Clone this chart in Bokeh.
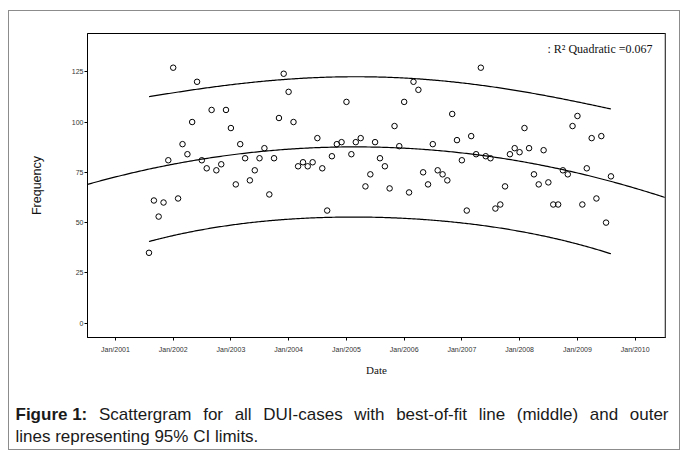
import numpy as np
import pandas as pd
from bokeh.plotting import figure
from bokeh.layouts import column, row
from bokeh.models import (FixedTicker, DatetimeTickFormatter, Label, Range1d,
                          ColumnDataSource, Span, Spacer)
from bokeh.embed import file_html
from bokeh.resources import INLINE

# ---------------- data (monthly DUI case counts) ----------------
first_month = "2001-08-01"
freq_2001 = [35, 61, 53, 60, 81]
freq_2002 = [127, 62, 89, 84, 100, 120, 81, 77, 106, 76, 79, 106]
freq_2003 = [97, 69, 89, 82, 71, 76, 82, 87, 64, 82, 102, 124]
freq_2004 = [115, 100, 78, 80, 78, 80, 92, 77, 56, 83, 89, 90]
freq_2005 = [110, 84, 90, 92, 68, 74, 90, 82, 78, 67, 98, 88]
freq_2006 = [110, 65, 120, 116, 75, 69, 89, 76, 74, 71, 104, 91]
freq_2007 = [81, 56, 93, 84, 127, 83, 82, 57, 59, 68, 84, 87]
freq_2008 = [85, 97, 87, 74, 69, 86, 70, 59, 59, 76, 74, 98]
freq_2009 = [103, 59, 77, 92, 62, 93, 50, 73]

tick_years = [2001, 2002, 2003, 2004, 2005, 2006, 2007, 2008, 2009, 2010]
y_ticks = [0, 25, 50, 75, 100, 125]
x_title = "Date"
y_title = "Frequency"
fit_label = ": R\u00b2 Quadratic =0.067"
caption_bold = "Figure 1:"
caption_line1 = "Scattergram for all DUI-cases with best-of-fit line (middle) and outer"
caption_line2 = "lines representing 95% CI limits."

frequency = (freq_2001 + freq_2002 + freq_2003 + freq_2004 + freq_2005 +
             freq_2006 + freq_2007 + freq_2008 + freq_2009)
dates = pd.date_range(first_month, periods=len(frequency), freq="MS")

def to_ms(ts):
    return pd.Timestamp(ts).value / 1e6

x_ms = np.array([to_ms(d) for d in dates])
x_start = to_ms("2000-07-08")
x_end = to_ms("2010-07-12")

# ---------------- quadratic fit with 95% prediction limits ----------------
YEAR_MS = 365.25 * 86400e3
t = (x_ms - x_ms[0]) / YEAR_MS
y = np.array(frequency, dtype=float)
X = np.column_stack([np.ones_like(t), t, t ** 2])
beta, *_ = np.linalg.lstsq(X, y, rcond=None)
resid = y - X @ beta
dof = len(y) - 3
s2 = resid @ resid / dof
XtX_inv = np.linalg.inv(X.T @ X)
t_crit = 1.9855  # t(0.975, df=94)

grid_full = np.linspace(x_start, x_end, 300)
tf = (grid_full - x_ms[0]) / YEAR_MS
fit_full = beta[0] + beta[1] * tf + beta[2] * tf ** 2

grid_data = np.linspace(x_ms[0], x_ms[-1], 300)
td = (grid_data - x_ms[0]) / YEAR_MS
Xd = np.column_stack([np.ones_like(td), td, td ** 2])
fit_d = Xd @ beta
h = np.einsum("ij,jk,ik->i", Xd, XtX_inv, Xd)
half = t_crit * np.sqrt(s2 * (1 + h))
upper = fit_d + half
lower = fit_d - half

# ---------------- page geometry ----------------
BOX_L, BOX_T = 8, 10          # outer grey panel border (page px)
IN_L, IN_T = BOX_L + 1, BOX_T + 1
INNER_W = 670
MAIN_H = 370
CAP_H = 68
FRAME_L, FRAME_T, FRAME_R, FRAME_B = 87, 33, 665, 337

# ---------------- chart ----------------
p = figure(width=INNER_W, height=MAIN_H, x_axis_type="datetime", output_backend="svg",
           toolbar_location=None, title=None,
           x_range=Range1d(x_start, x_end), y_range=Range1d(-7.1, 144),
           min_border_left=FRAME_L - IN_L, min_border_right=INNER_W - (FRAME_R - IN_L),
           min_border_top=FRAME_T - IN_T, min_border_bottom=MAIN_H - (FRAME_B - IN_T))
p.background_fill_color = "white"
p.border_fill_color = "white"
p.xgrid.visible = False
p.ygrid.visible = False
p.outline_line_color = "black"
p.outline_line_width = 1

FMT = "%b/%Y"
p.xaxis.ticker = FixedTicker(ticks=[to_ms(f"{yr}-01-01") for yr in tick_years])
p.xaxis.formatter = DatetimeTickFormatter(years=FMT, months=FMT, days=FMT, hours=FMT,
                                          hourmin=FMT, minutes=FMT, minsec=FMT, seconds=FMT,
                                          milliseconds=FMT, microseconds=FMT)
p.yaxis.ticker = FixedTicker(ticks=y_ticks)

for ax in (p.xaxis, p.yaxis):
    ax.major_label_text_font = "Liberation Sans"
    ax.major_label_text_font_size = "7px"
    ax.major_label_text_color = "#333333"
    ax.major_tick_in = 0
    ax.major_tick_out = 3
    ax.minor_tick_line_color = None
    ax.axis_line_color = "black"
    ax.major_tick_line_color = "black"
    ax.axis_label_text_font_style = "normal"
    ax.axis_label_text_color = "#111111"

p.xaxis.axis_label = x_title
p.xaxis.axis_label_text_font = "Liberation Serif"
p.xaxis.axis_label_text_font_size = "11px"
p.xaxis.major_label_standoff = 5
p.xaxis.axis_label_standoff = 8

p.yaxis.axis_label = y_title
p.yaxis.axis_label_text_font = "Liberation Sans"
p.yaxis.axis_label_text_font_size = "12.5px"
p.yaxis.major_label_standoff = 1
p.yaxis.axis_label_standoff = 25

src = ColumnDataSource(dict(date=x_ms, freq=frequency))
p.line(grid_full, fit_full, line_color="black", line_width=1.2)
p.line(grid_data, upper, line_color="black", line_width=1.2)
p.line(grid_data, lower, line_color="black", line_width=1.2)
p.scatter("date", "freq", source=src, marker="circle", size=5.5,
          fill_color=None, line_color="black", line_width=1)

p.add_layout(Span(location=x_end, dimension="height", line_color="#8a8a8a", line_width=2))

# fit legend (screen units relative to the frame)
p.add_layout(Label(x=652 - FRAME_L, y=FRAME_B - 48, x_units="screen", y_units="screen",
                   text=fit_label, text_align="right", text_baseline="middle",
                   text_font="Liberation Serif", text_font_size="12px", text_color="#111111"))

# ---------------- caption panel (own frame, not aligned with the chart) ----------------
CAP_SHIFT = 1
CAP_W = INNER_W - 2 * CAP_SHIFT
CAP_L = IN_L + CAP_SHIFT            # page x of the caption canvas
CAP_TOP = IN_T + MAIN_H             # page y of the caption canvas

cap = figure(width=CAP_W, height=CAP_H, output_backend="svg", toolbar_location=None,
             title=None, x_range=Range1d(0, CAP_W), y_range=Range1d(CAP_H, 0),
             min_border=0, min_border_left=0, min_border_right=0, min_border_top=0,
             min_border_bottom=0, x_axis_type=None, y_axis_type=None)
cap.outline_line_color = None
cap.xgrid.visible = False
cap.ygrid.visible = False
cap.background_fill_color = "white"
cap.border_fill_color = "white"

AR = {" ": 278, "%": 889, "(": 333, ")": 333, "-": 333, ".": 278, ":": 278, "0": 556, "1": 556,
      "2": 556, "3": 556, "4": 556, "5": 556, "6": 556, "7": 556, "8": 556, "9": 556,
      "C": 722, "D": 722, "I": 278, "S": 667, "U": 722,
      "a": 556, "b": 556, "c": 500, "d": 556, "e": 556, "f": 278, "g": 556, "h": 556, "i": 222,
      "l": 222, "m": 833, "n": 556, "o": 556, "p": 556, "r": 333, "s": 500, "t": 278, "u": 556,
      "w": 722}
ARB = {"F": 611, "i": 278, "g": 611, "u": 611, "r": 389, "e": 556, " ": 278, "1": 556, ":": 333}

def tw(s, size, table):
    return sum(table[c] for c in s) * size / 1000.0

CAP_SIZE = 17
cap_left, cap_right = 15, 668
line1_y, line2_y = 414, 436
wb = tw(caption_bold, CAP_SIZE, ARB)
words = caption_line1.split(" ")
ww = [tw(w, CAP_SIZE, AR) for w in words]
gap = (cap_right - cap_left - wb - sum(ww)) / len(words)

def cap_label(text, xpage, ypage, bold=False):
    return Label(x=xpage - CAP_L, y=ypage - CAP_TOP, text=text,
                 text_align="left", text_baseline="middle", text_font="Liberation Sans",
                 text_font_size=f"{CAP_SIZE}px", text_color="#1a1a1a",
                 text_font_style="bold" if bold else "normal")

cap.add_layout(cap_label(caption_bold, cap_left, line1_y, bold=True))
cur = cap_left + wb
for w, wdt in zip(words, ww):
    cur += gap
    cap.add_layout(cap_label(w, cur, line1_y))
    cur += wdt
cap.add_layout(cap_label(caption_line2, cap_left, line2_y))

inner = column(p, row(Spacer(width=CAP_SHIFT, height=CAP_H), cap),
               styles={"border": "1px solid #8c8c8c"})
page = column(Spacer(height=BOX_T, width=10), row(Spacer(width=BOX_L, height=10), inner))

open("out.html", "w").write(file_html(page, INLINE))
